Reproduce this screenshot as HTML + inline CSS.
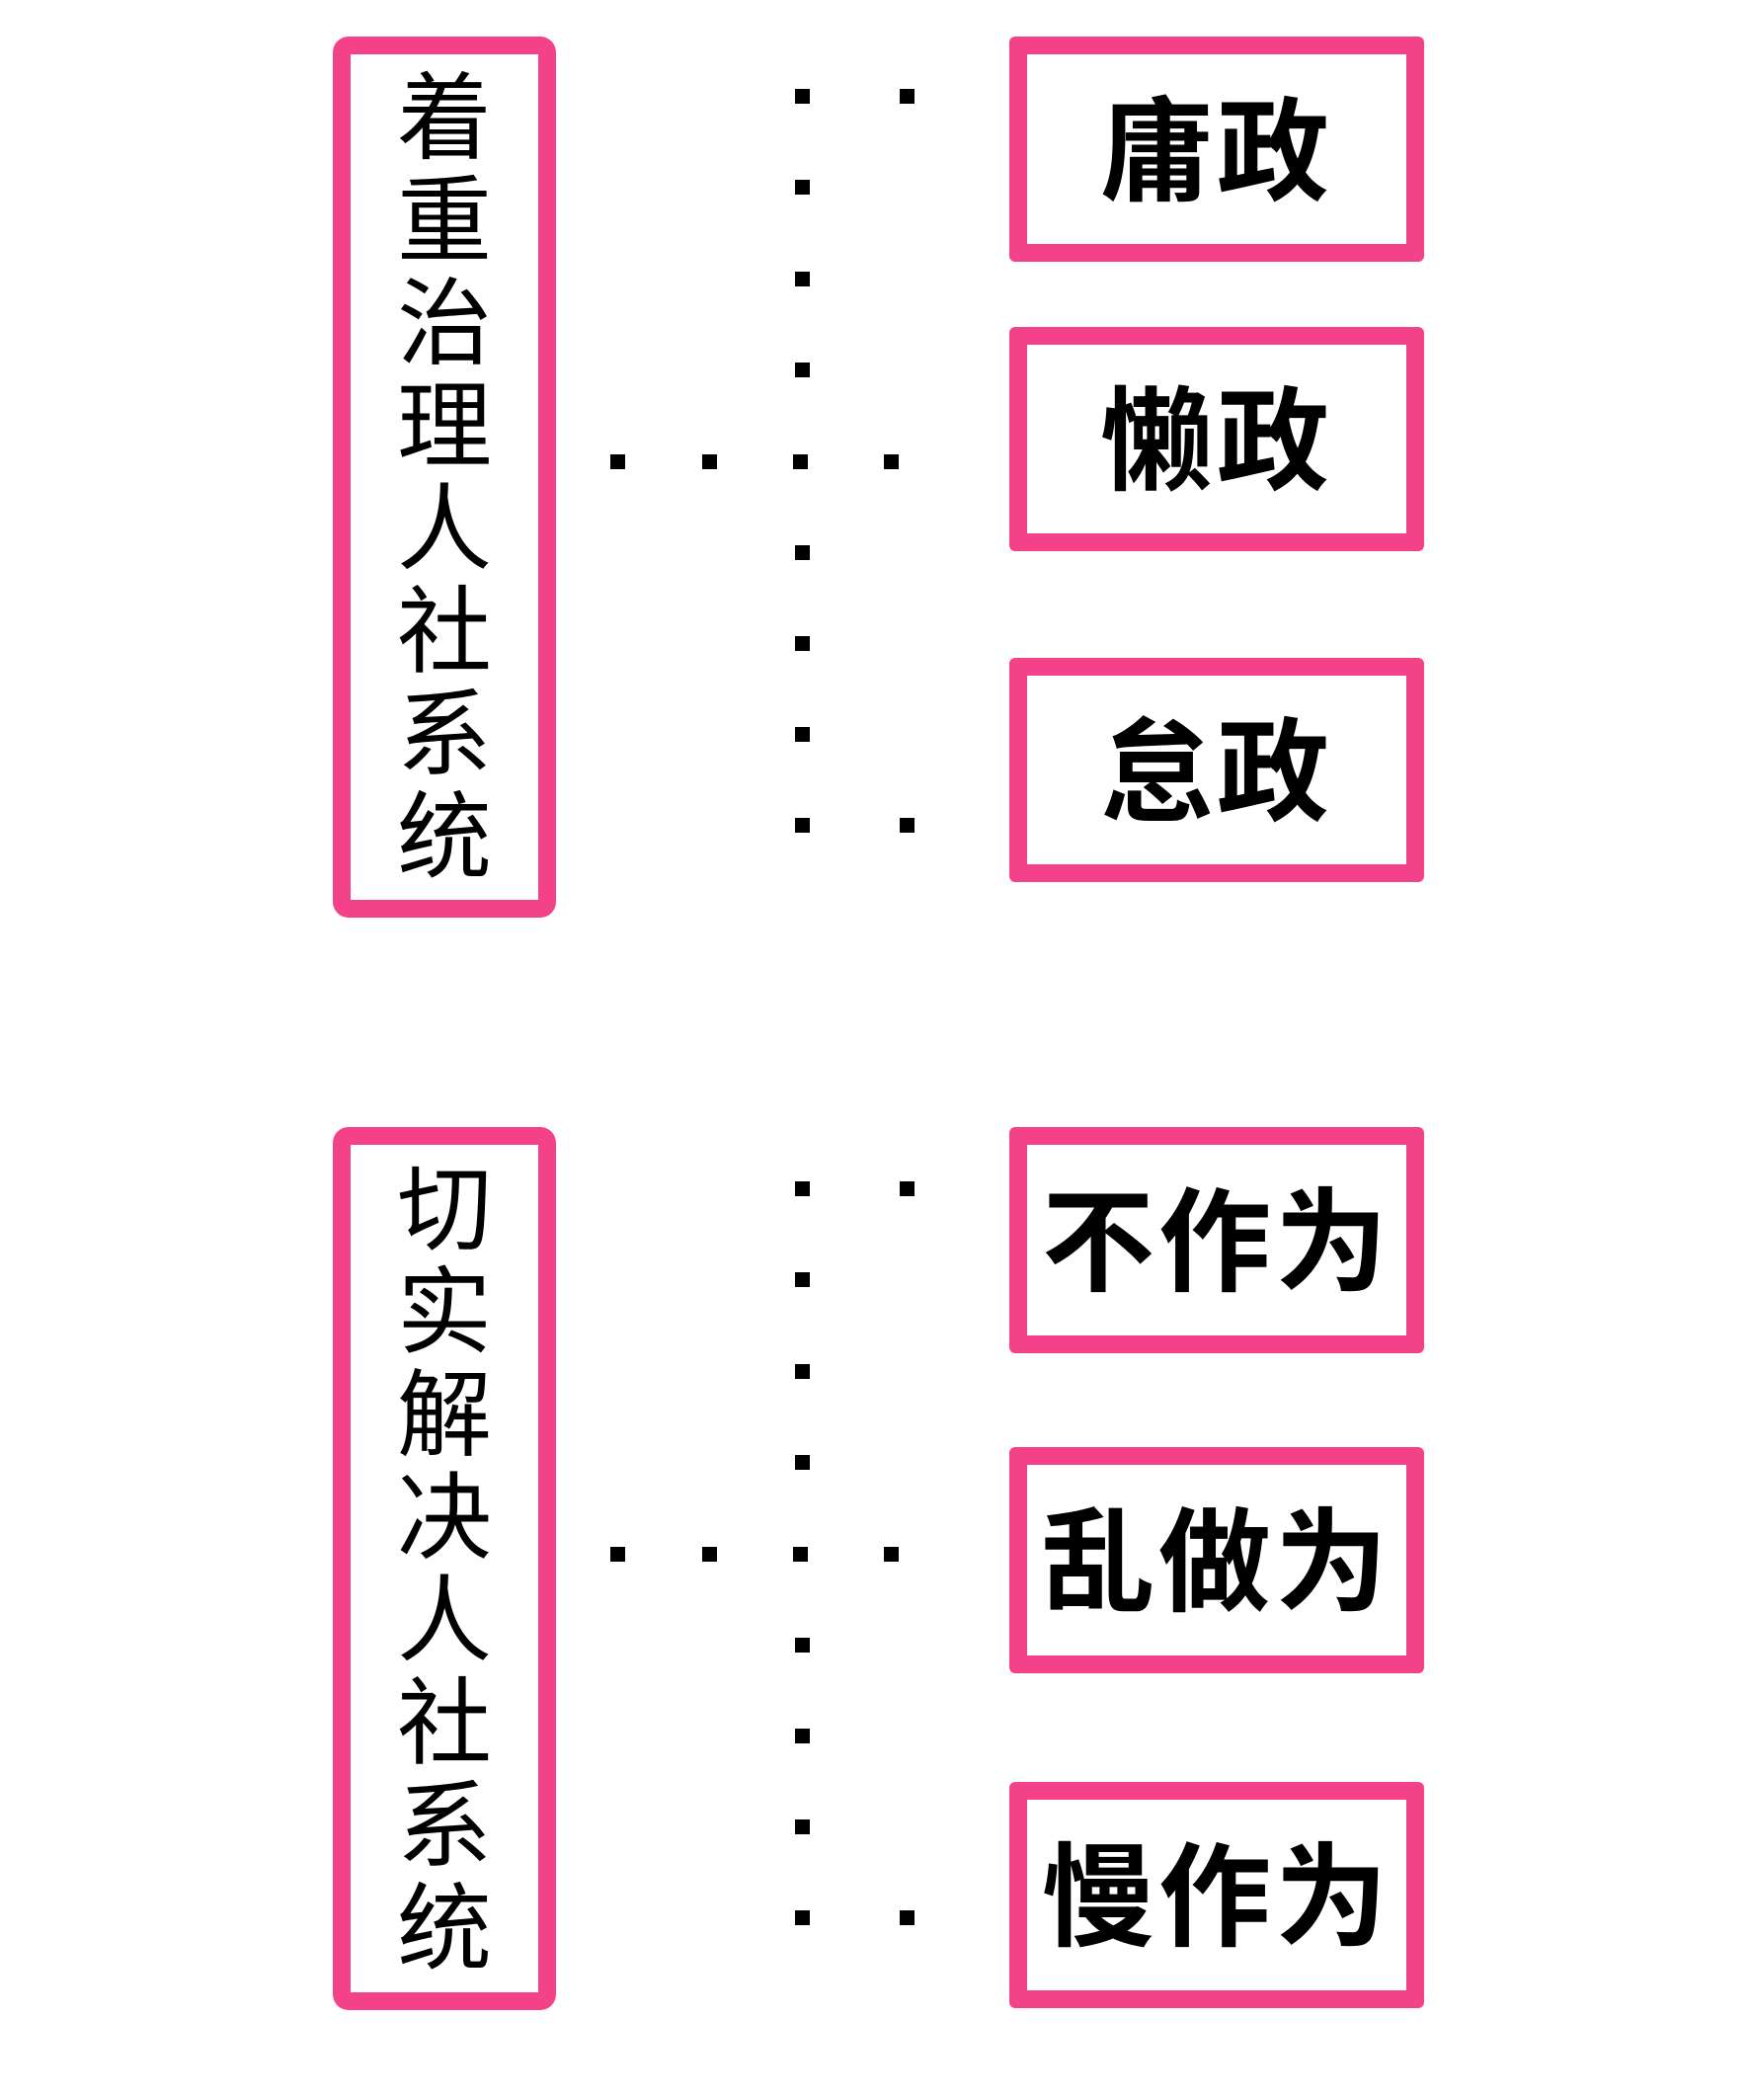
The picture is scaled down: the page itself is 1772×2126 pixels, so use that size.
<!DOCTYPE html>
<html><head><meta charset="utf-8"><style>
html,body{margin:0;padding:0;background:#fff;}
body{width:1772px;height:2126px;position:relative;overflow:hidden;}
.box{position:absolute;box-sizing:border-box;border:18px solid #f4428a;background:#fff;}
.l{border-radius:16px;display:flex;flex-direction:column;align-items:center;justify-content:center;font-family:"Liberation Sans","Noto Sans CJK SC",sans-serif;font-size:96px;line-height:104px;color:#000;}
.r{border-radius:6px;display:flex;align-items:center;justify-content:center;padding-bottom:14px;font-family:"Liberation Sans","Noto Sans CJK SC",sans-serif;font-weight:bold;font-size:114px;letter-spacing:4px;color:#000;}
.d{position:absolute;width:15px;height:15px;background:#000;}
</style></head><body>
<div class="box l" style="left:337px;top:37px;width:226px;height:892px;padding-top:4px;"><div>着</div><div>重</div><div>治</div><div>理</div><div>人</div><div>社</div><div>系</div><div>统</div></div>
<div class="box r" style="left:1022px;top:37px;width:420px;height:228px;">庸政</div>
<div class="box r" style="left:1022px;top:331px;width:420px;height:227px;">懒政</div>
<div class="box r" style="left:1022px;top:666px;width:420px;height:227px;">怠政</div>

<div class="box l" style="left:337px;top:1141px;width:226px;height:894px;padding-top:4px;"><div>切</div><div>实</div><div>解</div><div>决</div><div>人</div><div>社</div><div>系</div><div>统</div></div>
<div class="box r" style="left:1022px;top:1141px;width:420px;height:229px;">不作为</div>
<div class="box r" style="left:1022px;top:1465px;width:420px;height:229px;">乱做为</div>
<div class="box r" style="left:1022px;top:1804px;width:420px;height:229px;">慢作为</div>

<div class="d" style="left:805px;top:90px"></div><div class="d" style="left:911px;top:90px"></div>
<div class="d" style="left:805px;top:182px"></div>
<div class="d" style="left:805px;top:275px"></div>
<div class="d" style="left:805px;top:367px"></div>
<div class="d" style="left:618px;top:460px"></div><div class="d" style="left:711px;top:460px"></div><div class="d" style="left:803px;top:460px"></div><div class="d" style="left:895px;top:460px"></div>
<div class="d" style="left:805px;top:552px"></div>
<div class="d" style="left:805px;top:644px"></div>
<div class="d" style="left:805px;top:736px"></div>
<div class="d" style="left:805px;top:828px"></div><div class="d" style="left:911px;top:828px"></div>

<div class="d" style="left:805px;top:1196px"></div><div class="d" style="left:911px;top:1196px"></div>
<div class="d" style="left:805px;top:1288px"></div>
<div class="d" style="left:805px;top:1381px"></div>
<div class="d" style="left:805px;top:1473px"></div>
<div class="d" style="left:618px;top:1566px"></div><div class="d" style="left:711px;top:1566px"></div><div class="d" style="left:803px;top:1566px"></div><div class="d" style="left:895px;top:1566px"></div>
<div class="d" style="left:805px;top:1658px"></div>
<div class="d" style="left:805px;top:1750px"></div>
<div class="d" style="left:805px;top:1842px"></div>
<div class="d" style="left:805px;top:1934px"></div><div class="d" style="left:911px;top:1934px"></div>
</body></html>
